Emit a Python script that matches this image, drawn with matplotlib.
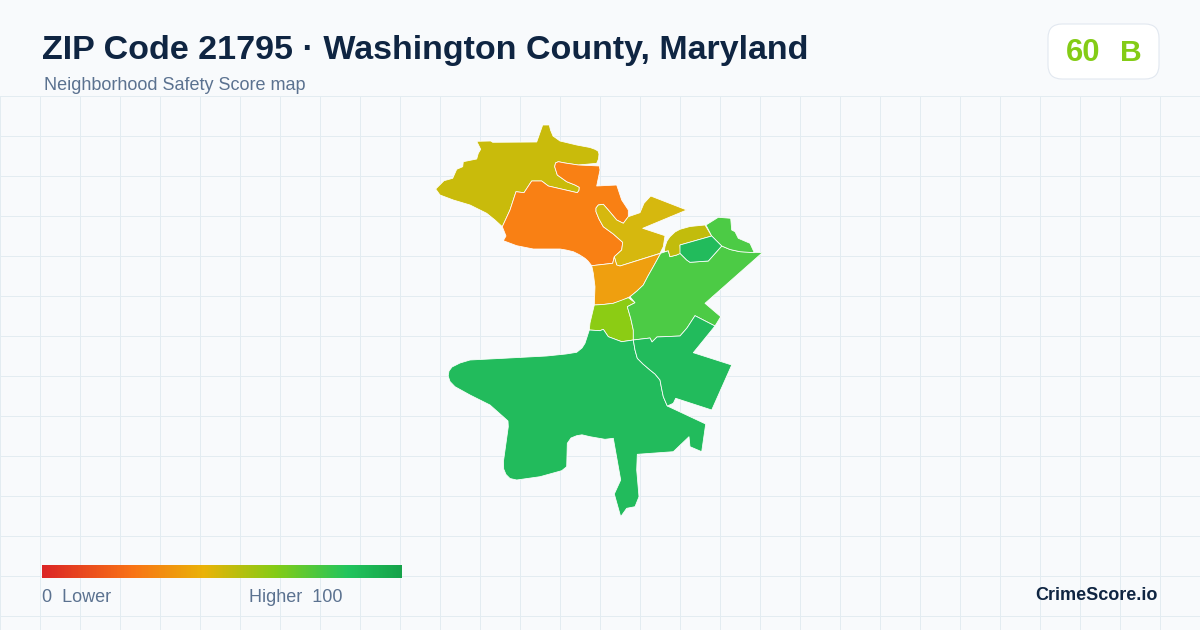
import numpy as np
import matplotlib
matplotlib.use("Agg")
import matplotlib.pyplot as plt
from matplotlib.patches import Polygon, FancyBboxPatch
from matplotlib.colors import LinearSegmentedColormap

plt.rcParams['font.family'] = ['Liberation Sans', 'DejaVu Sans']

TITLE = "ZIP Code 21795 · Washington County, Maryland"
SUBTITLE = "Neighborhood Safety Score map"
SCORE = "60"
GRADE = "B"
BRAND = "CrimeScore.io"

# Neighbourhood outlines in map coordinates
northwest = [(435.7,189),(444,180.7),(452.7,178.3),(456.7,169.3),(462.7,166.7),(463.3,161.7),(476.7,159),(478.3,153.3),(480.7,149.3),(476.7,141.3),(490.7,141),(492.7,142.3),(536.7,142),(542.7,125),(549.3,125),(550.5,130),(553,136),(560,141),(576.7,145),(590,147.5),(595,149.3),(598,151),(599,154),(598.5,159),(596.7,163.3),(578.3,165),(565,163),(558.3,161.7),(555.5,163),(554.7,166.7),(557.3,175),(566.7,181.7),(575,185),(579.3,187.3),(579,190.5),(577.3,192.7),(548.3,186),(541.7,181),(531.7,181),(524,192.7),(516,191.7),(510,210),(502.3,226.7),(495,220),(486.7,213.3),(470,205),(453.3,200),(440,195)]
orange = [(558.3,161.7),(565,163),(578.3,165),(599.3,166),(600,170),(596.7,186),(616.7,185),(621.7,200),(628.3,210),(628.3,216.7),(623.3,223.3),(616.7,220),(608.3,210),(603.3,204.3),(598.3,205),(596,208),(596,211.7),(599,219),(603.3,226.7),(613.3,234),(622.7,242.3),(621.7,250),(614.3,256.7),(612.7,263.3),(591.7,265.7),(588,261),(585,258.3),(579,254.5),(573.3,251.7),(566,250),(560,249),(533.3,249),(516.7,245.7),(503.3,240.7),(506,236),(502.3,226.7),(510,210),(516,191.7),(524,192.7),(531.7,181),(541.7,181),(548.3,186),(577.3,192.7),(579,190.5),(579.3,187.3),(575,185),(566.7,181.7),(557.3,175),(554.7,166.7),(555.5,163)]
gold = [(598.3,205),(603.3,204.3),(608.3,210),(616.7,220),(623.3,223.3),(628.3,216.7),(640,212.7),(644,203.3),(650.7,196),(686.7,210),(642.7,228.3),(665,235.7),(663.3,246.7),(660,253.3),(620,266),(616.7,265),(614.3,256.7),(621.7,250),(622.7,242.3),(613.3,234),(603.3,226.7),(599,219),(596,211.7),(596,208)]
amber = [(591.7,265.7),(612.7,263.3),(614.3,256.7),(616.7,265),(620,266),(660.7,253.3),(653.3,266.7),(648,276),(643.3,285),(637,291),(630,296.7),(622,300.5),(613.3,303.3),(603,304.5),(594.3,305),(595,286.7),(593.3,273.3)]
lime = [(594.3,305),(603,304.5),(613.3,303.3),(628.3,297.7),(635,302.7),(627.3,306.7),(630.7,318.3),(633.3,330),(633.3,340),(621.7,341.7),(608.3,336.7),(603.3,329.3),(600,330.7),(589.3,330),(590,323)]
central_green = [(627.3,306.7),(635,302.7),(630,296.7),(637,291),(643.3,285),(648,276),(653.3,266.7),(660.7,253.3),(668.3,250.7),(670,256.7),(676.7,255),(680,253.3),(686.7,260),(690,262.3),(708.3,261),(721.7,246),(730,249.5),(740,251.7),(762.3,252.7),(705,303.3),(720.7,316.7),(715,326),(695,315.7),(687,328),(680,336),(657,337),(652,342),(650,338),(633.3,340),(633.3,330),(630.7,318.3)]
olive_strip = [(665,246.7),(667,241),(670,236.7),(675,232),(680,229.3),(690,226.5),(705,225),(711.7,236),(680,245),(680.7,253.3),(676.7,255),(670,256.7),(668.3,250.7),(664.3,251.7)]
northeast = [(706,225),(718.3,217.3),(730.7,218.3),(731.7,230),(735,231.7),(738.3,238.3),(750,243.3),(754.3,252.7),(740,251.7),(730,249.5),(721.7,246),(711.7,236)]
small_green = [(680,245),(711.7,236),(721.7,246),(708.3,261),(690,262.3),(686.7,260),(680,253.3)]
south = [(589.3,330),(600,330.7),(603.3,329.3),(608.3,336.7),(621.7,341.7),(633.3,340),(635,350),(637.3,358.3),(643,364),(650,370),(655,374),(660,380),(661.5,388),(663.3,396.7),(667.3,406),(705.7,424),(701.7,451.7),(690,446.7),(689,436.7),(673.3,451.7),(637.3,454.3),(636.7,470),(639,496.7),(635,506.7),(626.7,508.3),(620.7,516.7),(614.3,494),(620.7,480),(613.3,438.3),(605,439.3),(590,436.7),(582,434.8),(576.7,435.7),(571,438),(567.3,443.3),(566.7,466.7),(561.7,470.7),(540,476.7),(516.7,480),(510,478.5),(506,474.5),(503.7,469),(503.5,461),(508.3,426.7),(508,421),(505,418.3),(490,405),(470,395),(455,386.7),(450,381.5),(448.2,376),(449,371),(452,367),(460,363),(470,360),(503.3,358.3),(546.7,356),(566,354),(576.7,352.3),(582,348),(585,343.3)]
east = [(633.3,340),(650,338),(652,342),(657,337),(680,336),(687,328),(695,315.7),(715,326),(693.3,352.7),(731.7,365),(711.7,410),(675.7,398.3),(673.3,403.3),(667.3,406),(663.3,396.7),(661.5,388),(660,380),(655,374),(650,370),(643,364),(637.3,358.3),(635,350)]

areas = [northwest, orange, gold, amber, lime, central_green, olive_strip, northeast, small_green, south, east]
area_colors = ["#c9bb0b", "#f98014", "#d6b80e", "#ef9f0f", "#8ccc14", "#4ccb45",
               "#c2bc0c", "#4ccb45", "#22bb5c", "#22bb5c", "#22bb5c"]

scale_stops = [0.0, 0.25, 0.45, 0.65, 0.85, 1.0]
scale_colors = ["#dc2626", "#f97316", "#eab308", "#84cc16", "#22c55e", "#16a34a"]

W, H = 1200, 630
BG = "#f8fafc"
GRID = "#e3ecf1"

fig = plt.figure(figsize=(W/100, H/100), dpi=100, facecolor=BG)
ax = fig.add_axes([0, 0, 1, 1])
ax.set_facecolor(BG)
ax.axis("off")

# Graticule
for x in np.arange(0, W, 40):
    ax.plot([x, x], [96, H], color=GRID, lw=0.72, zorder=1)
for y in np.arange(96, H, 40):
    ax.plot([0, W], [y, y], color=GRID, lw=0.72, zorder=1)

# Map
for pts, c in zip(areas, area_colors):
    ax.add_patch(Polygon(pts, closed=True, facecolor=c, edgecolor="#ffffff",
                         lw=0.55, joinstyle="round", zorder=3))

# Colour scale
cmap = LinearSegmentedColormap.from_list("score", list(zip(scale_stops, scale_colors)))
ax.imshow(np.linspace(0, 1, 360)[None, :], cmap=cmap, extent=(42, 402, 578, 565),
          aspect="auto", zorder=4, interpolation="bilinear")

px = 0.72
ax.text(42, 50.5, TITLE, fontsize=34*px, fontweight="bold", color="#0f2542", va="center", zorder=5)
ax.text(44, 86, SUBTITLE, fontsize=18*px, color="#5b7290", va="center", zorder=5)
ax.text(42, 598, "0  Lower", fontsize=18*px, color="#5b7290", va="center", zorder=5)
ax.text(249, 598, "Higher  100", fontsize=18*px, color="#5b7290", va="center", zorder=5)
ax.text(1158, 595, BRAND, fontsize=18*px, fontweight="bold", color="#0f2542", va="center", ha="right", zorder=5)

# Score badge
ax.add_patch(FancyBboxPatch((1062, 38), 83, 27, boxstyle="round,pad=14,rounding_size=14",
                            facecolor="#ffffff", edgecolor="#e2e8f0", lw=0.8, zorder=4))
ax.text(1083, 53, SCORE, fontsize=31*px, fontweight="bold", color="#84cc16", va="center", ha="center", zorder=5)
ax.text(1131, 53, GRADE, fontsize=30*px, fontweight="bold", color="#84cc16", va="center", ha="center", zorder=5)

ax.set_xlim(0, W)
ax.set_ylim(H, 0)
fig.savefig("out.png", dpi=100, facecolor=BG)
